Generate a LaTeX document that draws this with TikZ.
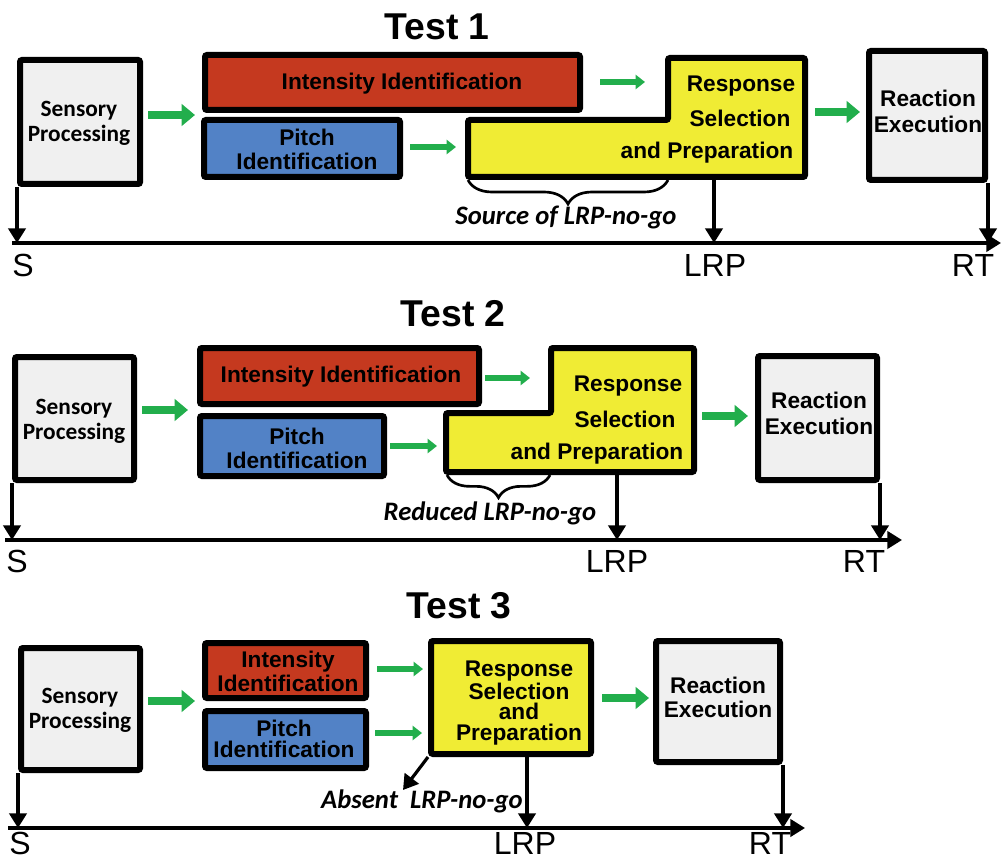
\documentclass[tikz,border=0pt]{standalone}
\usepackage{fontspec}
\setmainfont{Liberation Sans}
\newfontfamily\calfont{Carlito}
\usetikzlibrary{arrows.meta,fit,decorations.pathreplacing}
\definecolor{cred}{RGB}{197,57,31}
\definecolor{cblue}{RGB}{82,130,198}
\definecolor{cyel}{RGB}{240,236,52}
\definecolor{cgrey}{RGB}{240,240,240}
\definecolor{cgreen}{RGB}{34,174,76}
\begin{document}
\begin{tikzpicture}[x=0.75pt,y=-0.75pt,
  bx/.style={draw=black, line width=4.5pt, rounded corners=1.5pt, inner sep=0pt},
  greybx/.style={bx, fill=cgrey},
  redbx/.style={bx, fill=cred},
  bluebx/.style={bx, fill=cblue},
  yelbx/.style={draw=black, line width=4.5pt, rounded corners=1.5pt, fill=cyel},
  lbl/.style={font=\fontsize{17}{18}\selectfont\bfseries, inner sep=0pt, align=center},
  sens/.style={font=\calfont\fontsize{17.5}{18.75}\selectfont\bfseries, inner sep=0pt, align=center},
  ttl/.style={font=\fontsize{28}{30}\selectfont\bfseries, inner sep=0pt},
  axl/.style={font=\fontsize{24}{26}\selectfont, inner sep=0pt},
  itl/.style={font=\calfont\fontsize{20}{22}\selectfont\bfseries\itshape, inner sep=0pt},
  gbig/.style={draw=cgreen, line width=6.5pt, -{Triangle[length=10pt,width=16pt]}},
  gsmall/.style={draw=cgreen, line width=4.5pt, -{Triangle[length=7pt,width=10.5pt]}},
  tarrow/.style={draw=black, line width=2.4pt, -{Triangle[length=11pt,width=13pt]}},
  brc/.style={draw=black, line width=2pt, decorate, decoration={brace, amplitude=18pt, mirror}},
]
\useasboundingbox (0,0) rectangle (1002,859);

%% ---------------- Test 1 ----------------
\node[ttl] (t1) at (437,27) {Test 1};
\node[greybx, fit={(20,60) (140,184)}] (sens1) {};
\node[redbx, fit={(205,55) (580,110)}] (int1) {};
\node[bluebx, fit={(204,120) (400,177)}] (pit1) {};
\draw[yelbx] (668,58) -- (805,58) -- (805,177) -- (468,177) -- (468,120) -- (668,120) -- cycle;
\coordinate (yel1) at (714,177);
\node[greybx, fit={(869,51) (985,180)}] (react1) {};
\node[sens] (sp1) at (79,123) {Sensory\\Processing};
\node[lbl] (it1) at (402,84) {Intensity Identification};
\node[lbl] (pt1) at (307,149) {Pitch\\Identification};
\node[lbl] (r1a) at (741,86) {Response};
\node[lbl] (r1b) at (740,118) {Selection};
\node[lbl] (r1c) at (707,153) {and Preparation};
\node[lbl, font=\fontsize{17}{19.5}\selectfont\bfseries] (re1) at (928,111) {Reaction\\Execution};
\coordinate (g1a) at (148,115); \coordinate (g1b) at (195,115);
\coordinate (g1c) at (600,82);  \coordinate (g1d) at (645,82);
\coordinate (g1e) at (410,147); \coordinate (g1f) at (456,147);
\coordinate (g1g) at (815,112); \coordinate (g1h) at (860,112);
\draw[gbig] (g1a) -- (g1b);
\draw[gsmall] (g1c) -- (g1d);
\draw[gsmall] (g1e) -- (g1f);
\draw[gbig] (g1g) -- (g1h);
\coordinate (b1a) at (468,180); \coordinate (b1b) at (668,180);
\draw[brc] (b1a) -- (b1b);
\node[itl] (src1) at (566,217) {Source of LRP-no-go};
\coordinate (ax1s) at (12,243); \coordinate (ax1e) at (1001,243);
\draw[tarrow] (ax1s) -- (ax1e);
\draw[tarrow] (sens1.south west) -- (sens1.south west |- ax1s);
\draw[tarrow] (yel1) -- (yel1 |- ax1s);
\draw[tarrow] (react1.south east) -- (react1.south east |- ax1s);
\node[axl] (s1) at (23,265) {S};
\node[axl] (l1) at (715,265) {LRP};
\node[axl] (rt1) at (973,265) {RT};

%% ---------------- Test 2 ----------------
\node[ttl] (t2) at (453,314) {Test 2};
\node[greybx, fit={(15,357) (134,480)}] (sens2) {};
\node[redbx, fit={(200,348) (479,404)}] (int2) {};
\node[bluebx, fit={(200,416) (384,476)}] (pit2) {};
\draw[yelbx] (551,348) -- (694,348) -- (694,472) -- (446,472) -- (446,413) -- (551,413) -- cycle;
\coordinate (yel2) at (617,472);
\node[greybx, fit={(758,356) (877,480)}] (react2) {};
\node[sens] (sp2) at (74,421) {Sensory\\Processing};
\node[lbl] (it2) at (341,377) {Intensity Identification};
\node[lbl] (pt2) at (297,448) {Pitch\\Identification};
\node[lbl] (r2a) at (628,386) {Response};
\node[lbl] (r2b) at (625,419) {Selection};
\node[lbl] (r2c) at (597,454) {and Preparation};
\node[lbl, font=\fontsize{17}{19.5}\selectfont\bfseries] (re2) at (819,413) {Reaction\\Execution};
\coordinate (g2a) at (142,410); \coordinate (g2b) at (188,410);
\coordinate (g2c) at (485,378); \coordinate (g2d) at (530,378);
\coordinate (g2e) at (390,446); \coordinate (g2f) at (437,446);
\coordinate (g2g) at (702,416); \coordinate (g2h) at (748,416);
\draw[gbig] (g2a) -- (g2b);
\draw[gsmall] (g2c) -- (g2d);
\draw[gsmall] (g2e) -- (g2f);
\draw[gbig] (g2g) -- (g2h);
\coordinate (b2a) at (447,475); \coordinate (b2b) at (550,475);
\draw[brc, decoration={brace, amplitude=17pt, mirror}] (b2a) -- (b2b);
\node[itl] (src2) at (490,513) {Reduced LRP-no-go};
\coordinate (ax2s) at (5,540); \coordinate (ax2e) at (902,540);
\draw[tarrow] (ax2s) -- (ax2e);
\draw[tarrow] (sens2.south west) -- (sens2.south west |- ax2s);
\draw[tarrow] (yel2) -- (yel2 |- ax2s);
\draw[tarrow] (react2.south east) -- (react2.south east |- ax2s);
\node[axl] (s2) at (17,561) {S};
\node[axl] (l2) at (617,561) {LRP};
\node[axl] (rt2) at (864,561) {RT};

%% ---------------- Test 3 ----------------
\node[ttl] (t3) at (459,606) {Test 3};
\node[greybx, fit={(21,648) (140,770)}] (sens3) {};
\node[redbx, fit={(205,643) (366,698)}] (int3) {};
\node[bluebx, fit={(205,711) (366,768)}] (pit3) {};
\node[bx, fill=cyel, fit={(431,641) (591,754)}] (yel3) {};
\node[greybx, fit={(656,641) (780,762)}] (react3) {};
\node[sens] (sp3) at (80,710) {Sensory\\Processing};
\node[lbl, font=\fontsize{17}{18}\selectfont\bfseries] (it3) at (288,671) {Intensity\\Identification};
\node[lbl, font=\fontsize{17}{16}\selectfont\bfseries] (pt3) at (284,739) {Pitch\\Identification};
\node[lbl, font=\fontsize{17}{15.5}\selectfont\bfseries] (r3) at (519,703) {Response\\Selection\\and\\Preparation};
\node[lbl, font=\fontsize{17}{18}\selectfont\bfseries] (re3) at (718,697) {Reaction\\Execution};
\coordinate (g3a) at (148,701); \coordinate (g3b) at (195,701);
\coordinate (g3c) at (377,669); \coordinate (g3d) at (423,669);
\coordinate (g3e) at (375,733); \coordinate (g3f) at (422,733);
\coordinate (g3g) at (602,698); \coordinate (g3h) at (649,698);
\draw[gbig] (g3a) -- (g3b);
\draw[gsmall] (g3c) -- (g3d);
\draw[gsmall] (g3e) -- (g3f);
\draw[gbig] (g3g) -- (g3h);
\coordinate (abs3) at (403,790);
\draw[tarrow] (yel3.south west) -- (abs3);
\node[itl] (src3) at (422,801) {Absent\ \ LRP-no-go};
\coordinate (yel3b) at (527,754);
\coordinate (ax3s) at (8,828); \coordinate (ax3e) at (805,828);
\draw[tarrow] (ax3s) -- (ax3e);
\draw[tarrow] (sens3.south west) -- (sens3.south west |- ax3s);
\draw[tarrow] (yel3b) -- (yel3b |- ax3s);
\draw[tarrow] (react3.south east) -- (react3.south east |- ax3s);
\node[axl] (s3) at (20,843) {S};
\node[axl] (l3) at (525,843) {LRP};
\node[axl] (rt3) at (770,843) {RT};
\end{tikzpicture}
\end{document}
